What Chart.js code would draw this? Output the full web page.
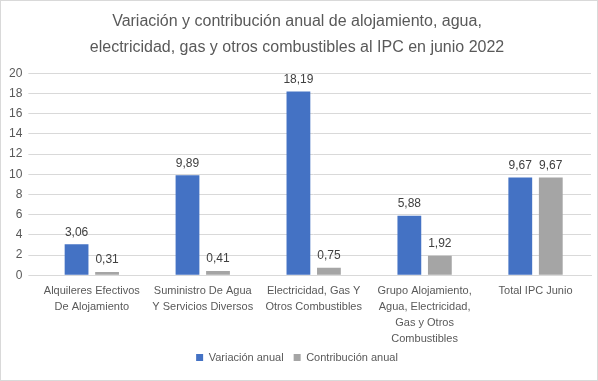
<!DOCTYPE html>
<html><head><meta charset="utf-8">
<script src="https://cdn.jsdelivr.net/npm/chart.js@4"></script>
<style>
html,body{margin:0;padding:0;background:#fff;}
#wrap{position:absolute;left:0;top:0;width:596px;height:379px;border:1px solid #d9d9d9;}
</style></head><body>
<div id="wrap"><canvas id="c" width="596" height="379"></canvas></div>
<script>
const categories = [
  ["Alquileres Efectivos","De Alojamiento"],
  ["Suministro De Agua","Y Servicios Diversos"],
  ["Electricidad, Gas Y","Otros Combustibles"],
  ["Grupo Alojamiento,","Agua, Electricidad,","Gas y Otros","Combustibles"],
  ["Total IPC Junio"]
];
const variacionAnual = [3.06, 9.89, 18.19, 5.88, 9.67];
const contribucionAnual = [0.31, 0.41, 0.75, 1.92, 9.67];
const yTicks = [0,2,4,6,8,10,12,14,16,18,20];
const FONT = '"Liberation Sans", Arial, sans-serif';
const LEGEND_SHRINK = 5;

const labelPlugin = {
  id: 'dl',
  afterDatasetsDraw(chart){
    const ctx = chart.ctx;
    ctx.save();
    ctx.font = '12px ' + FONT;
    ctx.fillStyle = '#404040';
    ctx.textAlign = 'center';
    ctx.textBaseline = 'bottom';
    chart.data.datasets.forEach((ds,i)=>{
      chart.getDatasetMeta(i).data.forEach((bar,j)=>{
        ctx.fillText(ds.data[j].toFixed(2).replace('.',','), bar.x, bar.y-6);
      });
    });
    ctx.restore();
  }
};

const legendTighten = {
  id: 'legendTighten',
  beforeInit(chart){
    const lg = chart.legend;
    if (!lg) return;
    const fit = lg.fit;
    lg.fit = function(){ fit.call(this); this.height -= LEGEND_SHRINK; };
    const draw = lg.draw;
    lg.draw = function(){
      const ctx = this.ctx;
      ctx.save(); ctx.translate(0, -LEGEND_SHRINK);
      draw.call(this);
      ctx.restore();
    };
  }
};

new Chart(document.getElementById('c'), {
  type: 'bar',
  data: {
    labels: categories,
    datasets: [
      {label:'Variación anual', data: variacionAnual, backgroundColor:'#4472c4'},
      {label:'Contribución anual', data: contribucionAnual, backgroundColor:'#a5a5a5'}
    ]
  },
  options: {
    responsive:false, animation:false,
    layout:{padding:{left:2,right:6,top:0,bottom:7}},
    categoryPercentage:0.55, barPercentage:0.78,
    plugins:{
      title:{display:true, text:['Variación y contribución anual de alojamiento, agua,','electricidad, gas y otros combustibles al IPC en junio 2022'],
        color:'#595959', font:{size:16, family:FONT, weight:'normal', lineHeight:1.6}, padding:{top:8,bottom:13}},
      legend:{position:'bottom', labels:{boxWidth:7, boxHeight:7, color:'#595959', font:{size:11, family:FONT}, padding:10}},
      tooltip:{enabled:false}
    },
    scales:{
      x:{grid:{display:false}, border:{color:'#d9d9d9'},
        ticks:{color:'#595959', font:{size:11, family:FONT, lineHeight:1.45}, maxRotation:0, autoSkip:false, padding:0}},
      y:{min:0, max:20, afterBuildTicks:(s)=>{s.ticks = yTicks.map(v=>({value:v}));},
        grid:{color:'#d9d9d9'}, border:{display:false},
        ticks:{color:'#595959', font:{size:12, family:FONT}, padding:6}}
    }
  },
  plugins:[labelPlugin, legendTighten]
});
</script></body></html>
